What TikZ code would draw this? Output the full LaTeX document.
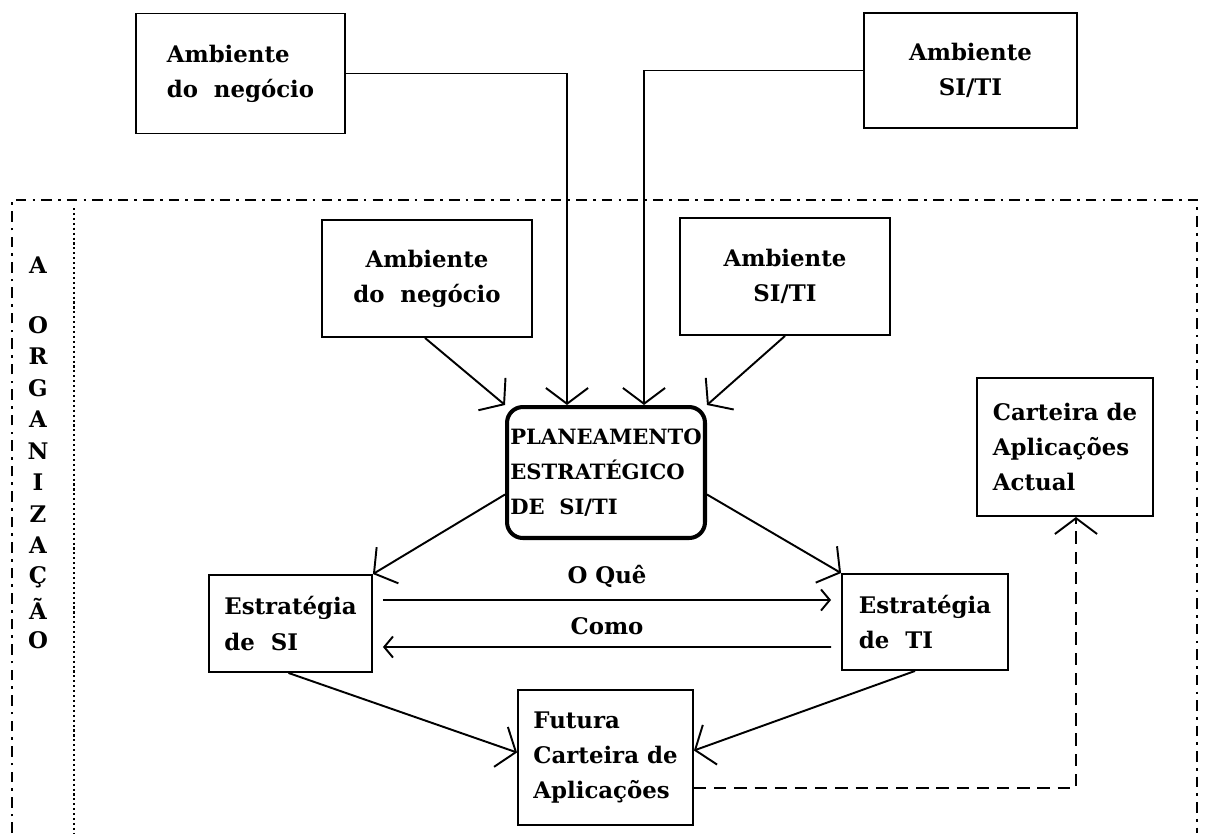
\documentclass[tikz,border=0pt]{standalone}
\usepackage{fontspec}
\setmainfont{DejaVu Serif}
\usetikzlibrary{arrows.meta,calc}
\tikzset{
  txt/.style={font=\bfseries\fontsize{13}{20}\selectfont},
  box/.style={draw,line width=1.1pt,inner sep=0pt,txt},
  conn/.style={line width=1.1pt},
  big/.style={conn,-{Straight Barb[length=9pt,width=24pt]}},
  small/.style={conn,-{Straight Barb[length=5pt,width=12pt]}},
  frame/.style={line width=1.2pt,dash pattern=on 6pt off 3.5pt on 1.5pt off 3.5pt},
  lettr/.style={txt,inner sep=0pt}
}
\begin{document}
\begin{tikzpicture}[x=0.02cm,y=-0.02cm]
\useasboundingbox (0,0) rectangle (1215,833);
\fill[white] (0,0) rectangle (1215,833);

% organisation boundary and the inner dotted rule
\draw[frame] (12,833) -- (12,200) -- (1197,200) -- (1197,833);
\draw[line width=1.2pt,dash pattern=on 1.2pt off 1.6pt] (74,208) -- (74,833);

% vertical caption
\node[lettr] (orgA) at (38,265) {A};
\foreach \ch [count=\i] in {O,R,G,A,N,I,Z,A,Ç,Ã,O}
  \node[lettr] (org\i) at (38,{325+(\i-1)*31.5}) {\ch};

% boxes
\node[box,minimum width=4.18cm,minimum height=2.4cm,align=left]   (tlb) at (240.5,73.5) {Ambiente\\do\ \ negócio};
\node[box,minimum width=4.26cm,minimum height=2.3cm,align=center] (trb) at (970.5,70.5) {Ambiente\\SI/TI};
\node[box,minimum width=4.2cm,minimum height=2.34cm,align=center] (inb) at (427,278.5) {Ambiente\\do\ \ negócio};
\node[box,minimum width=4.2cm,minimum height=2.34cm,align=center] (isb) at (785,276.5) {Ambiente\\SI/TI};
\node[box,line width=2.3pt,rounded corners=9pt,minimum width=3.96cm,minimum height=2.62cm,align=left,
      font=\bfseries\fontsize{12}{20}\selectfont] (cb) at (606,472.5)
      {PLANEAMENTO\\ESTRATÉGICO\\DE\ \ SI/TI};
\node[box,minimum width=3.52cm,minimum height=2.76cm,align=left]  (cab) at (1065,447) {Carteira de\\Aplicações\\Actual};
\node[box,minimum width=3.26cm,minimum height=1.94cm,align=left]  (esi) at (290.5,623.5) {Estratégia\\de\ \ SI};
\node[box,minimum width=3.32cm,minimum height=1.92cm,align=left]  (eti) at (925,622) {Estratégia\\de\ \ TI};
\node[box,minimum width=3.5cm,minimum height=2.7cm,align=left]    (fut) at (605.5,757.5) {Futura\\Carteira de\\Aplicações};

% external environments feeding the planning
\draw[big] (tlb.east) -| ($(cb.north west)+(62,0)$);
\draw[big] (trb.west) -| ($(cb.north east)+(-63,0)$);
% internal environments
\draw[big] ($(inb.south)+(-2,0)$) -- (cb.north west);
\draw[big] ($(isb.south)+(0,0)$) -- (cb.north east);
% planning to strategies
\draw[big] ($(cb.west)+(0,22)$) -- (esi.north east);
\draw[big] ($(cb.east)+(0,22)$) -- (eti.north west);
% what / how
\draw[small] ($(esi.east)+(10,-23.5)$) -- ($(eti.west)+(-10,-22)$)
  node[midway,above=3pt,txt] (oque) {O Quê};
\draw[small] ($(eti.west)+(-10,25)$) -- ($(esi.east)+(10,23.5)$)
  node[midway,above=3pt,txt] (como) {Como};
% strategies to future portfolio
\draw[big] ($(esi.south)+(-2,0)$) -- ($(fut.west)+(0,-5)$);
\draw[big] ($(eti.south)+(-10,0)$) -- ($(fut.east)+(0,-7)$);
% future portfolio becomes the current one
\draw[big,dash pattern=on 7pt off 4.5pt] ($(fut.east)+(0,30.5)$) -| ($(cab.south)+(11,0)$);
\end{tikzpicture}
\end{document}
